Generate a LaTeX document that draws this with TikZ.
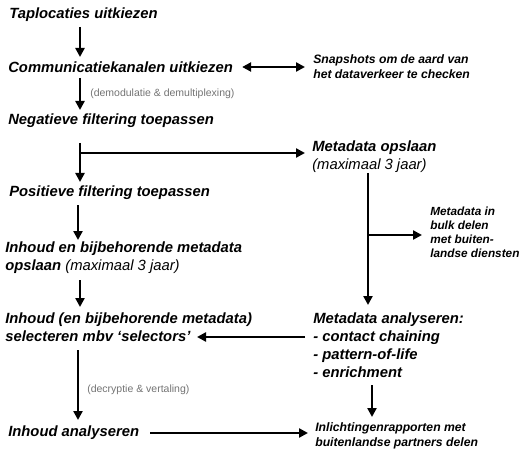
\documentclass[tikz,border=0pt]{standalone}
\usepackage{fontspec}
\setmainfont{Liberation Sans}
\usetikzlibrary{arrows.meta,positioning}

\begin{document}
\begin{tikzpicture}[x=1pt,y=-1pt,->,>={Triangle[length=9pt,width=9pt]},
                    line width=2.6pt]

  \tikzstyle{every node}=[inner sep=0pt,anchor=west,align=left]
  \tikzstyle{stap}=[font=\fontsize{14.8}{18}\selectfont\bfseries\itshape]
  \tikzstyle{klein}=[font=\fontsize{12.2}{15}\selectfont\bfseries\itshape]
  \tikzstyle{kleiner}=[font=\fontsize{11.8}{14}\selectfont\bfseries\itshape]
  \tikzstyle{uitleg}=[font=\fontsize{10.5}{12}\selectfont,text=black!55]

  \useasboundingbox (0,0) rectangle (523,452);

  % linker kolom
  \node[stap] (TU) at (8,15)  {Taplocaties uitkiezen};
  \node[stap] (CU) at (7,67)  {Communicatiekanalen uitkiezen};
  \node[stap] (NF) at (7,121) {Negatieve filtering toepassen};
  \node[stap] (PF) at (8,193) {Positieve filtering toepassen};
  \node[stap] (IO) at (4,258) {Inhoud en bijbehorende metadata\\
                               opslaan \mdseries(maximaal 3 jaar)};
  \node[stap] (IS) at (4,327) {Inhoud (en bijbehorende metadata)\\
                               selecteren mbv `selectors'};
  \node[stap] (IA) at (7,433) {Inhoud analyseren};

  % rechter kolom
  \node[klein]   (SN) at (312,67)  {Snapshots om de aard van\\
                                    het dataverkeer te checken};
  \node[stap]    (MO) at (311,157) {Metadata opslaan\\
                                    \mdseries(maximaal 3 jaar)};
  \node[kleiner] (MB) at (429,232) {Metadata in\\ bulk delen\\
                                    met buiten-\\ landse diensten};
  \node[stap]    (MA) at (312,345) {Metadata analyseren:\\ - contact chaining\\
                                    - pattern-of-life\\ - enrichment};
  \node[klein]   (IR) at (314,436) {Inlichtingenrapporten met\\
                                    buitenlandse partners delen};

  % pijlen
  \draw ([xshift=72pt,yshift=-12pt]TU.west) -- ([xshift=73pt,yshift=10pt]CU.west);
  \draw[<->] ([xshift=8pt]CU.east) -- ([xshift=-7pt]SN.west);
  \draw ([xshift=73pt,yshift=-11pt]CU.west) -- ([xshift=73pt,yshift=11pt]NF.west)
        node[uitleg,midway,xshift=9pt] {(demodulatie \& demultiplexing)};
  \draw ([xshift=73pt,yshift=-22pt]NF.west) coordinate (br1)
        -- ([xshift=72pt,yshift=11pt]PF.west);
  \draw ([yshift=-10pt]br1) -- ([yshift=4pt,xshift=-6pt]MO.west);
  \draw ([xshift=70pt,yshift=-12pt]PF.west) -- ([xshift=74pt,yshift=18pt]IO.west);
  \draw ([xshift=76pt,yshift=-22pt]IO.west) -- ([xshift=76pt,yshift=20pt]IS.west);
  \draw ([xshift=57pt,yshift=-16pt]MO.west) -- ([xshift=56pt,yshift=40pt]MA.west);
  \draw ([xshift=57pt,yshift=-78pt]MO.west) coordinate (br2)
        -- ([xshift=-7pt]MB.west |- br2);
  \draw ([xshift=-7pt,yshift=8pt]MA.west) -- ([xshift=193pt,yshift=-10pt]IS.west);
  \draw ([xshift=74pt,yshift=-23pt]IS.west) -- ([xshift=71pt,yshift=13pt]IA.west)
        node[uitleg,pos=0.57,xshift=8pt] {(decryptie \& vertaling)};
  \draw ([xshift=60pt,yshift=-40pt]MA.west) -- ([xshift=58pt,yshift=19pt]IR.west);
  \draw ([xshift=10pt]IA.east) -- ([xshift=-6pt,yshift=3pt]IR.west);
\end{tikzpicture}
\end{document}
